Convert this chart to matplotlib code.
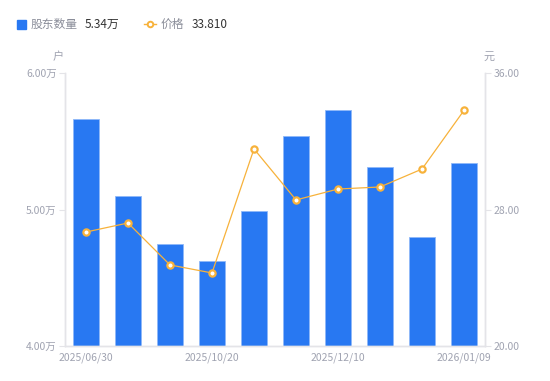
import matplotlib.pyplot as plt
import numpy as np

plt.rcParams['font.family'] = ['Noto Sans CJK SC', 'DejaVu Sans']

# data
dates = ["2025/06/30", "2025/08/31", "2025/09/30", "2025/10/20", "2025/10/31",
         "2025/11/20", "2025/12/10", "2025/12/19", "2025/12/31", "2026/01/09"]
holders = [5.66, 5.10, 4.75, 4.62, 4.99, 5.54, 5.73, 5.31, 4.80, 5.34]   # 万户
price = [26.68, 27.21, 24.75, 24.28, 31.55, 28.56, 29.20, 29.32, 30.37, 33.81]  # 元
shown_ticks = [0, 3, 6, 9]

bar_color = "#2878f2"
line_color = "#f7b23b"
grid_gray = "#e4e4e8"
label_gray = "#a0a3b1"

fig = plt.figure(figsize=(5.5, 3.81), dpi=100)
ax = fig.add_axes([65 / 550, 35 / 381, 420 / 550, 273 / 381])
ax2 = ax.twinx()

x = np.arange(len(dates))
ax.bar(x, holders, width=0.6, color=bar_color, edgecolor="#8fb8f8", linewidth=0.6, zorder=2)
ax.set_xlim(-0.5, len(dates) - 0.5)
ax.set_ylim(4.0, 6.0)
ax.set_yticks([4.0, 5.0, 6.0])
ax.set_yticklabels([f"{v:.2f}万" for v in [4.0, 5.0, 6.0]])

ax2.plot(x, price, color=line_color, linewidth=0.9, marker="o", markersize=4.5,
         markerfacecolor="white", markeredgecolor=line_color, markeredgewidth=1.6, zorder=3)
ax2.set_ylim(20, 36)
ax2.set_yticks([20, 28, 36])
ax2.set_yticklabels([f"{v:.2f}" for v in [20, 28, 36]])

ax.set_xticks([x[i] for i in shown_ticks])
ax.set_xticklabels([dates[i] for i in shown_ticks])

for a in (ax, ax2):
    a.spines["top"].set_visible(False)
    for side in ("left", "right", "bottom"):
        a.spines[side].set_color(grid_gray)
        a.spines[side].set_linewidth(1.0)
    a.tick_params(axis="both", colors=grid_gray, labelcolor=label_gray, labelsize=7.5,
                  length=4, width=0.8, pad=2)
ax.tick_params(axis="x", length=0, pad=5)
ax2.tick_params(axis="x", length=0)

# unit labels
fig.text(58 / 550, 1 - 57 / 381, "户", color=label_gray, fontsize=8, ha="center", va="center")
fig.text(489 / 550, 1 - 57 / 381, "元", color=label_gray, fontsize=8, ha="center", va="center")

# legend
ly = 1 - 24 / 381
fig.patches.append(plt.Rectangle((17 / 550, 1 - 29 / 381), 9 / 550, 9 / 381, color=bar_color,
                                 transform=fig.transFigure, figure=fig))
fig.text(31 / 550, ly, "股东数量", color="#8a8d99", fontsize=8.5, va="center")
fig.text(85 / 550, ly, f"{holders[-1]:.2f}万", color="#333333", fontsize=8.5, va="center")
fig.lines.append(plt.Line2D([144 / 550, 156 / 550], [ly, ly], color=line_color, linewidth=1,
                            transform=fig.transFigure, figure=fig))
fig.lines.append(plt.Line2D([150 / 550], [ly], color=line_color, linestyle="none",
                            marker="o", markersize=4, markerfacecolor="white",
                            markeredgecolor=line_color, markeredgewidth=1.4,
                            transform=fig.transFigure, figure=fig))
fig.text(161 / 550, ly, "价格", color="#8a8d99", fontsize=8.5, va="center")
fig.text(192 / 550, ly, f"{price[-1]:.3f}", color="#333333", fontsize=8.5, va="center")

fig.savefig("out.png", dpi=100)
